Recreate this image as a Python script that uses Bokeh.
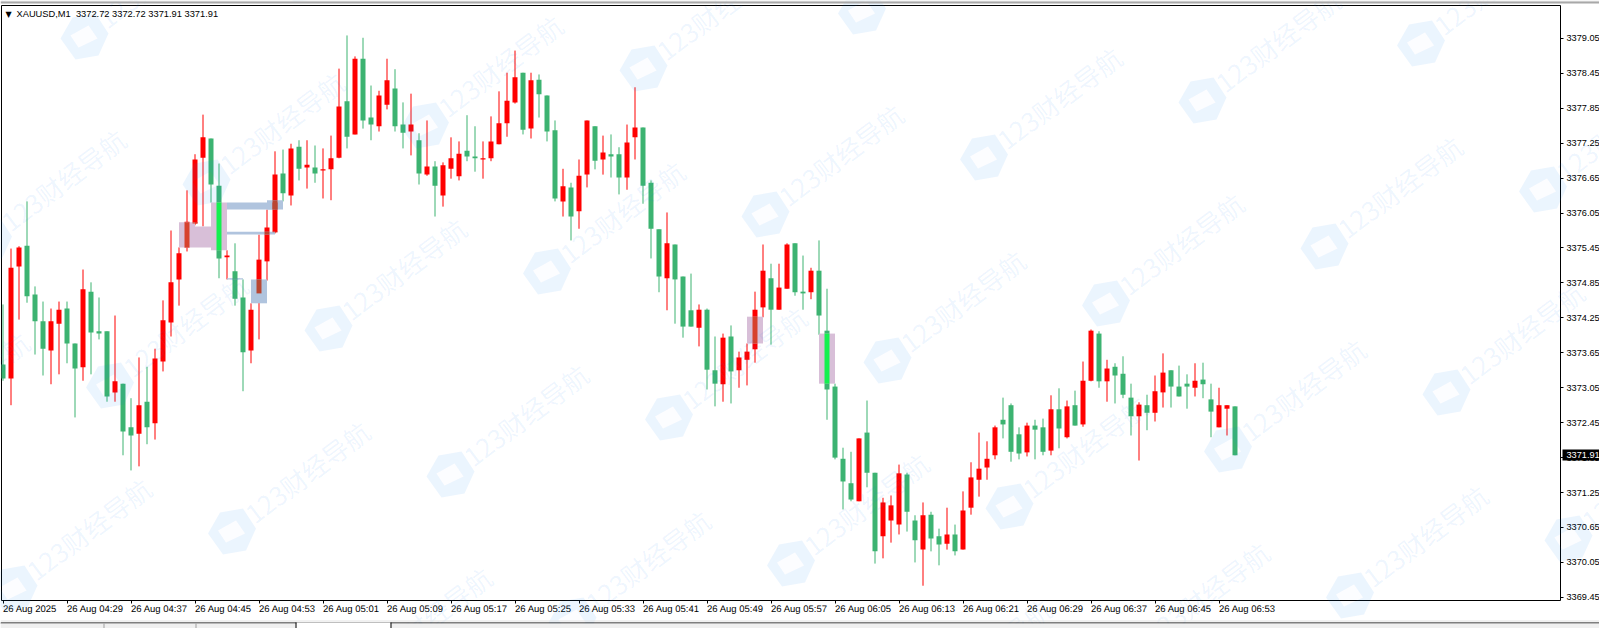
from bokeh.embed import file_html
from bokeh.resources import INLINE
from bokeh.plotting import figure, ColumnDataSource
from bokeh.core.properties import value
from bokeh.models import Range1d, FixedTicker, NumeralTickFormatter
import numpy as np

# ---- data ----
highs = [3374.48,3375.44,3375.48,3376.25,3374.79,3374.53,3374.41,3374.53,3374.53,3373.81,
3375.08,3374.86,3374.60,3374.02,3374.29,3373.12,3372.87,3373.57,3373.41,3373.72,
3374.55,3375.75,3375.46,3376.44,3377.06,3377.74,3377.33,3376.90,3375.41,3375.53,
3374.91,3374.50,3375.68,3376.11,3377.11,3377.14,3377.24,3377.30,3377.30,3377.21,
3377.16,3377.38,3378.53,3379.10,3378.74,3379.06,3378.24,3378.15,3378.70,3378.52,
3377.95,3378.10,3377.42,3377.64,3376.94,3376.92,3377.35,3377.28,3377.73,3377.54,
3377.28,3377.71,3378.14,3378.46,3378.84,3378.46,3378.46,3378.43,3378.07,3377.64,
3376.81,3376.57,3376.97,3377.64,3377.54,3377.38,3377.40,3377.18,3377.57,3378.21,
3377.52,3376.61,3375.77,3376.06,3375.51,3374.96,3375.01,3374.48,3374.41,3373.93,
3373.98,3374.12,3373.67,3373.81,3374.70,3375.51,3375.18,3375.18,3375.53,3375.53,
3375.32,3375.11,3375.58,3374.75,3373.12,3372.02,3371.95,3372.18,3372.83,3371.59,
3371.16,3371.20,3371.73,3371.59,3370.86,3371.08,3370.92,3370.63,3370.99,3370.70,
3371.27,3371.77,3372.28,3372.13,3372.40,3372.88,3372.78,3372.37,3372.45,3372.50,
3372.52,3372.92,3373.04,3372.83,3373.00,3373.50,3374.05,3374.02,3373.53,3373.47,
3373.59,3373.12,3372.80,3372.93,3373.26,3373.64,3373.35,3373.43,3373.28,3373.47,
3373.48,3373.12,3373.05,3372.75,3372.73]
body_tops = [3373.45,3375.11,3375.46,3375.49,3374.65,3374.19,3374.19,3374.39,3374.41,3373.81,
3374.74,3374.70,3374.02,3374.02,3373.16,3373.12,3372.37,3372.75,3372.81,3373.55,
3374.21,3374.86,3375.36,3375.90,3376.97,3377.35,3377.33,3376.52,3375.32,3375.05,
3374.60,3374.39,3375.25,3375.80,3376.71,3376.73,3377.16,3377.19,3376.88,3376.83,
3376.80,3376.99,3377.88,3377.97,3378.70,3378.70,3377.69,3378.07,3378.33,3378.19,
3377.57,3377.57,3377.30,3376.85,3376.85,3376.87,3376.99,3377.07,3377.12,3377.02,
3376.99,3377.28,3377.59,3377.98,3378.38,3378.46,3378.33,3378.34,3378.07,3377.47,
3376.51,3376.49,3376.69,3377.64,3377.54,3377.09,3377.06,3377.06,3377.26,3377.52,
3377.52,3376.57,3375.77,3375.53,3375.51,3374.96,3374.38,3374.39,3374.39,3373.35,
3373.91,3373.93,3373.57,3373.67,3374.39,3375.06,3374.93,3374.77,3375.51,3375.53,
3374.70,3375.06,3375.06,3374.03,3373.07,3371.83,3371.41,3372.18,3372.28,3371.59,
3371.08,3371.03,3371.58,3371.56,3370.77,3370.86,3370.87,3370.50,3370.53,3370.53,
3370.94,3371.51,3371.66,3371.83,3372.37,3372.50,3372.75,3372.25,3372.40,3372.40,
3372.37,3372.68,3372.68,3372.73,3372.75,3373.17,3374.03,3373.98,3373.38,3373.41,
3373.29,3372.88,3372.76,3372.75,3372.99,3373.31,3373.35,3373.07,3373.12,3373.17,
3373.19,3372.85,3372.75,3372.75,3372.73]
body_bottoms = [3373.21,3373.21,3375.13,3374.62,3374.19,3373.72,3373.69,3374.15,3373.81,3373.38,
3373.40,3374.00,3373.98,3372.90,3372.97,3372.30,3372.23,3372.26,3372.37,3372.44,
3373.50,3374.17,3374.91,3375.46,3375.87,3377.00,3376.54,3375.27,3375.29,3374.58,
3373.66,3373.69,3374.67,3375.22,3375.72,3376.39,3376.35,3376.81,3376.83,3376.73,
3376.78,3376.80,3377.00,3377.36,3377.40,3377.64,3377.57,3377.54,3377.91,3377.54,
3377.43,3377.45,3376.73,3376.71,3376.52,3376.35,3376.81,3376.68,3377.02,3376.99,
3376.97,3376.99,3377.23,3377.59,3377.95,3377.48,3377.50,3378.09,3377.45,3376.30,
3376.25,3375.99,3376.08,3376.71,3376.95,3376.97,3377.02,3376.66,3376.66,3377.35,
3376.52,3375.78,3374.96,3374.93,3374.91,3374.10,3374.10,3374.08,3373.36,3373.12,
3373.11,3373.33,3373.35,3373.53,3373.71,3374.43,3374.39,3374.39,3374.75,3374.69,
3374.67,3374.69,3374.29,3373.02,3371.85,3371.44,3371.13,3371.10,3371.59,3370.24,
3370.50,3370.77,3370.70,3370.92,3370.43,3370.27,3370.46,3370.36,3370.37,3370.24,
3370.27,3370.99,3371.47,3371.68,3371.89,3372.42,3371.95,3371.92,3371.94,3372.33,
3371.95,3371.97,3372.35,3372.20,3372.40,3372.42,3373.17,3373.16,3373.16,3373.26,
3372.93,3372.56,3372.56,3372.62,3372.62,3372.97,3373.07,3372.90,3373.07,3373.05,
3373.11,3372.64,3372.37,3372.69,3371.89]
lows = [3373.17,3372.75,3374.22,3374.51,3373.62,3373.26,3373.11,3373.28,3373.47,3372.54,
3373.17,3373.28,3373.88,3372.81,3372.81,3371.89,3371.63,3371.70,3372.08,3372.16,
3373.33,3373.93,3374.46,3375.39,3375.84,3375.82,3376.23,3374.93,3374.91,3374.46,
3372.99,3373.47,3373.88,3374.89,3375.70,3376.25,3376.18,3376.61,3376.47,3376.57,
3376.30,3376.27,3376.99,3377.16,3377.40,3377.50,3377.30,3377.45,3377.83,3377.45,
3377.16,3377.04,3376.54,3376.69,3375.99,3376.16,3376.64,3376.61,3376.94,3376.76,
3376.64,3376.94,3377.23,3377.36,3377.93,3377.40,3377.33,3377.69,3377.28,3376.25,
3375.99,3375.58,3375.78,3376.49,3376.80,3376.71,3376.66,3376.37,3376.45,3376.97,
3376.21,3375.27,3374.69,3374.38,3374.15,3373.91,3374.10,3373.76,3373.02,3372.73,
3372.81,3372.78,3373.05,3373.09,3373.48,3374.26,3373.79,3374.39,3374.75,3374.63,
3374.39,3374.57,3373.96,3372.50,3371.82,3370.96,3371.10,3371.10,3371.34,3370.03,
3370.12,3370.39,3370.53,3370.58,3370.05,3369.65,3370.24,3370.00,3370.27,3370.17,
3370.27,3370.87,3371.18,3371.47,3371.82,3372.18,3371.78,3371.82,3371.87,3371.82,
3371.89,3371.89,3372.01,3372.18,3372.40,3372.38,3373.16,3373.05,3372.81,3372.78,
3372.87,3372.23,3371.80,3372.32,3372.47,3372.71,3372.71,3372.90,3372.69,3372.90,
3372.87,3372.20,3372.37,3372.23,3371.89]
directions = ("DUUDDDUUDD" "UDDDUDDUDU" "UUUUUUDDUD" "DUUUUDUDUD" "UUUDUDDUUD" "DUDUDUUUDD" "UUUUUDUDDD" "UDUUDUDDUU"
              "DDDUDDDUDD" "UDUUUUDUUD" "DUDDDDDUDD" "UUUDDUDDUD" "UUUUUDDDUD" "DUDUDUUDUD" "DDUDUUDDDU" "DDUUD")
price_ticks = [3369.45,3370.05,3370.65,3371.25,3371.85,3372.45,3373.05,3373.65,3374.25,3374.85,
               3375.45,3376.05,3376.65,3377.25,3377.85,3378.45,3379.05]
time_labels = ["26 Aug 2025","26 Aug 04:29","26 Aug 04:37","26 Aug 04:45","26 Aug 04:53","26 Aug 05:01","26 Aug 05:09",
               "26 Aug 05:17","26 Aug 05:25","26 Aug 05:33","26 Aug 05:41","26 Aug 05:49","26 Aug 05:57","26 Aug 06:05",
               "26 Aug 06:13","26 Aug 06:21","26 Aug 06:29","26 Aug 06:37","26 Aug 06:45","26 Aug 06:53"]
header_text = "XAUUSD,M1\u00a0\u00a03372.72 3372.72 3371.91 3371.91"
last_price = 3371.91
# zones: first bar, last bar, upper price, lower price
thistle_zones = [(22,24,3375.89,3375.46),(24,26,3375.82,3375.46),(26,28,3376.23,3375.41),
                 (93,95,3374.27,3373.81),(102,104,3373.98,3373.12)]
steel_zones = [(28,34,3376.23,3376.11),(33,35,3376.27,3376.11),(28,34,3375.73,3375.68),
               (28,30,3374.93,3374.91),(31,33,3374.91,3374.50)]

# ---- styles / layout ----
W, H = 1599, 628
LEFT, RIGHT, TOP, BOTTOM = 1, 1560, 5, 600
BAR_PX, X0 = 8.0, 2.5
P0, PPX = 3379.70, 0.017173
GREEN, RED = "#3CB371", "#FF0000"
FONT = "Liberation Sans"

def xd(px): return (px - X0) / BAR_PX
def yd(py): return P0 - PPX * py

n = len(highs)
idx = np.arange(n)
bw = 5 / BAR_PX
is_up = [c == "U" for c in directions]
colors = [RED if u else GREEN for u in is_up]
src = ColumnDataSource(dict(x=idx, high=highs, low=lows, top=body_tops, bottom=body_bottoms, color=colors,
                            left=idx - bw/2, right=idx + bw/2))

p = figure(width=W, height=H, frame_width=RIGHT-LEFT, frame_height=BOTTOM-TOP,
           output_backend="svg", toolbar_location=None, y_axis_location="right",
           x_range=Range1d(xd(LEFT), xd(RIGHT)), y_range=Range1d(yd(BOTTOM), yd(TOP)),
           min_border_left=LEFT, min_border_right=W-RIGHT, min_border_top=TOP, min_border_bottom=H-BOTTOM,
           background_fill_color="white", border_fill_color="white")
p.styles = {"position": "absolute", "left": "0px", "top": "0px"}
p.grid.visible = False
p.outline_line_color = "black"
p.outline_line_width = 1

ya = p.yaxis[0]
ya.ticker = FixedTicker(ticks=price_ticks)
ya.formatter = NumeralTickFormatter(format="0.00")
xa = p.xaxis[0]
tick_bars = [8 * i for i in range(len(time_labels))]
xa.ticker = FixedTicker(ticks=tick_bars)
xa.major_label_overrides = dict(zip(tick_bars, time_labels))
xa.major_label_orientation = -0.002
for a in (xa, ya):
    a.major_tick_out = 3
    a.major_tick_in = 0
    a.minor_tick_out = 0
    a.minor_tick_in = 0
    a.axis_line_color = None
    a.major_tick_line_color = "black"
    a.major_label_text_font = FONT
    a.major_label_text_color = "black"
xa.major_label_text_font_size = "9.5px"
ya.major_label_text_font_size = "9.2px"
xa.major_label_standoff = 5
ya.major_label_standoff = 3

# candles
p.segment("x", "high", "x", "low", source=src, line_color="color", line_width=1)
p.quad(left="left", right="right", top="top", bottom="bottom", source=src,
       fill_color="color", line_color=None)

# zones
def zone_quads(zones, color):
    z = np.array(zones, dtype=float)
    p.quad(left=z[:,0], right=z[:,1], top=z[:,2], bottom=z[:,3], fill_color=color, line_color=None)
zone_quads(thistle_zones, "#D8BFD8")
zone_quads(steel_zones, "#B0C4DE")

# the zones mix with candle bodies where they cross
def mixed(zones, up_color, down_color):
    for l, r, t, b in zones:
        for i in range(n):
            if l <= i <= r:
                tt, bb = min(t, body_tops[i]), max(b, body_bottoms[i])
                if tt > bb:
                    p.quad(left=[i-bw/2], right=[i+bw/2], top=[tt], bottom=[bb],
                           fill_color=up_color if is_up[i] else down_color, line_color=None)
mixed(thistle_zones, "#D7412D", "#14F050")
mixed(steel_zones, "#BA4632", "#2FA06A")

# ---- overlay spanning the whole window: watermark, window chrome, header ----
q = figure(width=W, height=H, output_backend="svg", toolbar_location=None,
           x_range=Range1d(0, W), y_range=Range1d(H, 0), x_axis_location=None, y_axis_location=None,
           min_border=0, outline_line_color=None, background_fill_color=None, border_fill_color=None)
q.styles = {"position": "absolute", "left": "0px", "top": "0px"}
q.grid.visible = False

WM = "#007AF5"
hex_v = [(-24,2),(-12,-19),(11,-23),(24,-3),(14,19),(-9,23)]
dia_v = [(-14,-1),(4,-11),(13,2),(-6,11)]
ax, ay = -218.5, 57.0
bx, by = 559.0, 32.0
base = (668.5, 417.0)
ring_x, ring_y, dia_x, dia_y, tx, ty = [], [], [], [], [], []
pts = hex_v + [hex_v[0]] + dia_v[::-1] + [dia_v[-1]]
for j in range(-4, 4):
    for i in range(-8, 9):
        cx = base[0] + i*ax + j*bx
        cy = base[1] + i*ay + j*by
        if -40 < cx < W + 40 and -40 < cy < H + 40:
            ring_x.append([cx + a for a, _ in pts]); ring_y.append([cy + b for _, b in pts])
            dia_x.append([cx + a for a, _ in dia_v]); dia_y.append([cy + b for _, b in dia_v])
        if -90 < cx + 77 < W + 90 and -70 < cy - 63 < H + 70:
            tx.append(cx + 75); ty.append(cy - 60)
q.patches(ring_x, ring_y, fill_color=WM, fill_alpha=0.08, line_color=None)
q.patches(dia_x, dia_y, fill_color=WM, fill_alpha=0.012, line_color=None)
q.text(tx, ty, text=value("123财经导航"), angle=37, angle_units="deg", text_font=value("Noto Sans CJK SC"),
       text_font_size="26px", text_color=WM, text_alpha=0.07, text_align="center", text_baseline="middle")

def strip(x0, x1, y0, y1, color):
    q.quad(left=[x0], right=[x1], top=[y0], bottom=[y1], fill_color=color, line_color=None)
strip(0, W, 0, 1, "#E0E0E0")
strip(0, W, 1, 3, "#A8A8A8")
strip(0, W, 620, 621, "#E3E3E3")
strip(0, W, 622, 623, "#000000")
strip(0, W, 623, 628, "#F0F0F0")
strip(296, 390, 622, 628, "#FFFFFF")
strip(295, 296, 622, 628, "#000000")
strip(390, 391, 622, 628, "#000000")
strip(103, 104, 623, 628, "#A0A0A0")
strip(195, 196, 623, 628, "#A0A0A0")

q.text([5], [14], text=value("▼"), text_font=value("DejaVu Sans"), text_font_size="8px", text_color="black",
       text_baseline="middle")
q.text([16], [13.5], text=value(header_text), text_font=value(FONT), text_font_size="9.3px", text_color="black",
       text_baseline="middle")
strip(1562, 1599, 449, 460, "#000000")
q.text([1566], [454.5], text=value(f"{last_price:.2f}"), text_font=value(FONT), text_font_size="9.2px",
       text_color="white", text_baseline="middle")

open("out.html", "w").write(file_html((p, q), INLINE))
